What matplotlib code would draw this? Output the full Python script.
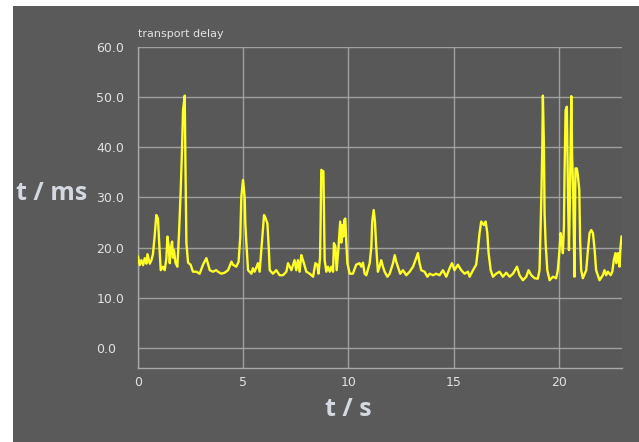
import matplotlib
matplotlib.use("Agg")
import matplotlib.pyplot as plt
from matplotlib.patches import Rectangle

# transport delay samples (time in s, delay in ms)
t_s = [0.00, 0.08, 0.16, 0.24, 0.32, 0.40, 0.45, 0.56, 0.64, 0.71, 0.79, 0.87, 0.95, 1.00,
       1.08, 1.19, 1.27, 1.35, 1.40, 1.46, 1.51, 1.55, 1.62, 1.66, 1.71, 1.78, 1.87, 1.95,
       2.03, 2.09, 2.14, 2.22, 2.25, 2.30, 2.38, 2.50, 2.61, 2.77, 2.93, 3.09, 3.25, 3.41,
       3.56, 3.72, 3.80, 3.96, 4.12, 4.28, 4.44, 4.51, 4.67, 4.78, 4.86, 4.91, 4.99, 5.07,
       5.10, 5.15, 5.23, 5.39, 5.46, 5.54, 5.62, 5.70, 5.78, 5.86, 5.94, 5.99, 6.07, 6.15,
       6.21, 6.26, 6.41, 6.57, 6.73, 6.89, 7.05, 7.13, 7.29, 7.44, 7.52, 7.60, 7.68, 7.76,
       7.84, 8.00, 8.16, 8.32, 8.43, 8.52, 8.58, 8.65, 8.68, 8.71, 8.81, 8.84, 8.87, 8.95,
       9.03, 9.11, 9.19, 9.27, 9.31, 9.38, 9.44, 9.53, 9.61, 9.66, 9.71, 9.76, 9.80, 9.85,
       9.90, 9.95, 10.06, 10.21, 10.37, 10.53, 10.61, 10.69, 10.77, 10.85, 11.01, 11.09,
       11.13, 11.20, 11.26, 11.32, 11.40, 11.48, 11.56, 11.64, 11.72, 11.85, 11.96, 12.12,
       12.20, 12.27, 12.35, 12.46, 12.59, 12.75, 12.91, 13.07, 13.22, 13.30, 13.38, 13.46,
       13.62, 13.75, 13.86, 14.02, 14.17, 14.33, 14.49, 14.65, 14.81, 14.92, 15.04, 15.20,
       15.36, 15.52, 15.68, 15.76, 15.92, 16.07, 16.15, 16.23, 16.31, 16.44, 16.52, 16.60,
       16.66, 16.76, 16.87, 17.02, 17.18, 17.34, 17.50, 17.66, 17.82, 18.01, 18.13, 18.29,
       18.45, 18.56, 18.69, 18.85, 19.00, 19.08, 19.16, 19.21, 19.24, 19.29, 19.32, 19.37,
       19.45, 19.56, 19.72, 19.87, 19.95, 20.03, 20.08, 20.14, 20.19, 20.24, 20.27, 20.32,
       20.38, 20.43, 20.48, 20.52, 20.59, 20.63, 20.68, 20.74, 20.79, 20.85, 20.90, 20.97,
       21.01, 21.06, 21.14, 21.30, 21.38, 21.46, 21.54, 21.62, 21.70, 21.77, 21.93, 22.09,
       22.17, 22.25, 22.33, 22.46, 22.54, 22.61, 22.69, 22.73, 22.81, 22.88, 22.93, 22.98]
delay_ms = [18.2, 16.5, 17.5, 16.5, 17.9, 16.8, 18.7, 16.8, 17.5, 18.7, 22.2, 26.5, 25.8, 21.5,
            15.5, 16.2, 15.5, 17.9, 22.2, 20.2, 16.9, 19.5, 21.2, 18.0, 19.5, 17.0, 16.2, 22.9,
            31.5, 39.4, 47.4, 50.3, 38.1, 20.9, 17.0, 16.6, 15.2, 15.2, 14.8, 16.6, 17.9, 15.5,
            15.2, 15.5, 15.2, 14.8, 15.0, 15.5, 17.2, 16.6, 16.2, 17.2, 22.2, 30.1, 33.5, 30.0,
            24.8, 20.9, 15.5, 14.8, 15.9, 15.2, 16.0, 16.9, 15.2, 19.5, 23.8, 26.5, 25.8, 24.8,
            20.2, 15.5, 14.8, 15.5, 14.5, 14.5, 15.2, 16.9, 15.5, 17.5, 15.5, 17.5, 15.2, 18.5,
            17.5, 15.2, 14.8, 14.2, 16.9, 16.6, 14.8, 18.0, 25.5, 35.5, 35.2, 25.5, 17.5, 15.2,
            16.2, 15.2, 16.2, 15.2, 20.9, 20.2, 15.5, 20.2, 25.2, 21.0, 24.5, 22.2, 25.5, 25.8,
            20.9, 16.9, 14.8, 14.8, 16.6, 16.9, 16.2, 17.0, 14.8, 14.5, 16.9, 20.2,
            25.2, 27.5, 25.2, 20.2, 15.2, 16.2, 17.5, 16.2, 15.2, 14.2, 14.8, 16.9,
            18.5, 17.2, 16.2, 14.8, 15.5, 14.5, 15.2, 16.2, 17.9, 18.9, 16.9, 15.5,
            15.2, 14.2, 14.8, 14.5, 14.8, 14.5, 15.5, 14.2, 15.9, 16.9, 15.5, 16.6,
            15.5, 14.8, 15.2, 14.2, 15.5, 16.6, 19.5, 22.9, 25.2, 24.5, 25.2, 22.9,
            18.9, 15.5, 14.2, 14.8, 15.2, 14.2, 15.0, 14.2, 14.8, 16.2, 14.5, 13.5,
            14.2, 15.5, 14.5, 13.9, 13.8, 15.5, 28.8, 39.4, 50.3, 40.0, 26.9, 20.9,
            15.5, 13.5, 14.2, 13.9, 15.5, 19.5, 22.9, 21.5, 18.9, 24.2, 34.9, 47.4,
            48.1, 31.5, 19.5, 28.5, 50.2, 38.1, 31.5, 14.2, 35.8, 35.8, 34.5, 31.5,
            21.5, 15.5, 13.9, 15.5, 19.5, 22.9, 23.5, 22.9, 19.5, 15.5, 13.5, 14.5,
            15.5, 14.5, 15.2, 14.5, 15.2, 17.5, 18.9, 16.9, 18.9, 16.2, 20.2, 22.2]

x_ticks = [0, 5, 10, 15, 20]
y_ticks = [0, 10, 20, 30, 40, 50, 60]

panel = "#5a5a5a"
grid_col = "#a8a8a8"
text_col = "#e2e2e2"

fig = plt.figure(figsize=(6.39, 4.42), dpi=100, facecolor="white")
# dark panel behind everything
fig.patches.append(Rectangle((13 / 639, 0), 1 - 13 / 639, 1 - 6 / 442,
                             transform=fig.transFigure, facecolor=panel,
                             edgecolor="none", zorder=-5))

ax = fig.add_axes([138 / 639, 1 - 368 / 442, (622 - 138) / 639, (368 - 47) / 442])
ax.set_zorder(2)
ax.set_facecolor("#585858")

ax.plot(t_s, delay_ms, color="#ffff26", lw=1.7, zorder=3)

ax.set_xlim(0, 23)
ax.set_ylim(-4, 60)
ax.set_xticks(x_ticks)
ax.set_xticklabels([str(v) for v in x_ticks])
ax.set_yticks(y_ticks)
ax.set_yticklabels(["%.1f" % v for v in y_ticks])
ax.grid(True, color=grid_col, lw=1, alpha=0.9)
ax.set_axisbelow(True)

for side in ["top", "right"]:
    ax.spines[side].set_visible(False)
for side in ["left", "bottom"]:
    ax.spines[side].set_color(grid_col)
    ax.spines[side].set_linewidth(1)

ax.tick_params(axis="both", length=0, colors=text_col, labelsize=9)
ax.tick_params(axis="x", pad=6)
ax.tick_params(axis="y", pad=30)
for lab in ax.get_yticklabels():
    lab.set_horizontalalignment("left")

ax.text(0, 1.025, "transport delay", transform=ax.transAxes, color=text_col,
        fontsize=8, ha="left", va="bottom")

fig.text(16 / 639, 1 - 193 / 442, "t / ms", color="#d4d8e0", fontsize=18,
         family="Open Sans", fontweight="bold", ha="left", va="center")
fig.text(348 / 639, 1 - 410 / 442, "t / s", color="#d4d8e0", fontsize=18,
         family="Open Sans", fontweight="bold", ha="center", va="center")

fig.savefig("out.png", dpi=100, facecolor=fig.get_facecolor())
